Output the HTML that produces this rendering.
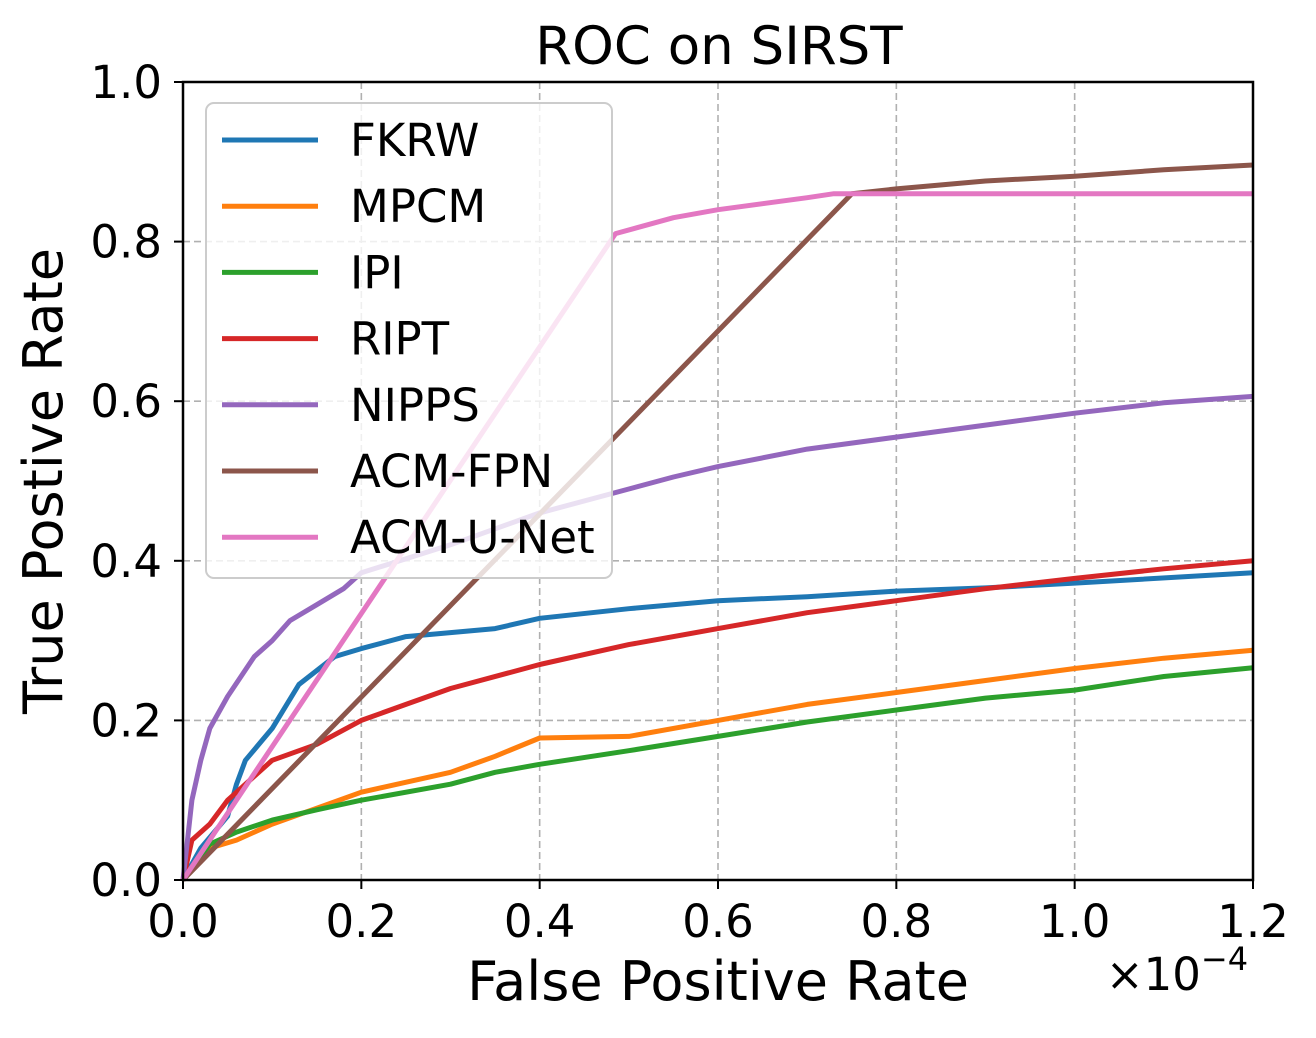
<!DOCTYPE html>
<html><head><meta charset="utf-8"><style>
body{margin:0;background:#fff}
svg text{font-family:"DejaVu Sans","Liberation Sans",sans-serif;fill:#000}
</style></head><body>
<svg width="1316" height="1033" viewBox="0 0 1316 1033">
<g id="grid"></g>
<g id="series"></g>
<rect x="183" y="82" width="1070" height="798" fill="none" stroke="#000" stroke-width="2.5"/>
<g id="ticks"></g>
<text x="719" y="64" font-size="53" text-anchor="middle">ROC on SIRST</text>
<text x="718" y="1000" font-size="54" text-anchor="middle">False Positive Rate</text>
<text x="1177" y="990" font-size="45" text-anchor="middle">×10<tspan dy="-20" font-size="32">−4</tspan></text>
<text transform="translate(62,481) rotate(-90)" font-size="54" text-anchor="middle">True Postive Rate</text>
<g id="legend"><rect x="206" y="103" width="406" height="475" rx="8" fill="#fff" fill-opacity="0.8" stroke="#ccc" stroke-width="2"/></g>
</svg>
<script>
const names=["FKRW","MPCM","IPI","RIPT","NIPPS","ACM-FPN","ACM-U-Net"];
const colors=["#1f77b4","#ff7f0e","#2ca02c","#d62728","#9467bd","#8c564b","#e377c2"];
const xTicks=[0,0.2,0.4,0.6,0.8,1.0,1.2];
const yTicks=[0,0.2,0.4,0.6,0.8,1.0];
const fkrwX=[0,0.02,0.05,0.06,0.07,0.1,0.13,0.17,0.2,0.25,0.3,0.35,0.4,0.5,0.6,0.7,0.8,0.9,1.0,1.2];
const fkrwY=[0,0.04,0.08,0.12,0.15,0.19,0.245,0.28,0.29,0.305,0.31,0.315,0.328,0.34,0.35,0.355,0.362,0.366,0.372,0.385];
const mpcmX=[0,0.03,0.06,0.1,0.15,0.2,0.3,0.35,0.4,0.5,0.6,0.7,0.8,0.9,1.0,1.1,1.2];
const mpcmY=[0,0.04,0.05,0.07,0.09,0.11,0.135,0.155,0.178,0.18,0.2,0.22,0.235,0.25,0.265,0.278,0.288];
const ipiX=[0,0.03,0.06,0.1,0.15,0.2,0.3,0.35,0.4,0.5,0.6,0.7,0.8,0.9,1.0,1.1,1.2];
const ipiY=[0,0.045,0.06,0.075,0.088,0.1,0.12,0.135,0.145,0.162,0.18,0.198,0.213,0.228,0.238,0.255,0.266];
const riptX=[0,0.01,0.03,0.05,0.08,0.1,0.15,0.2,0.25,0.3,0.4,0.5,0.6,0.7,0.8,0.9,1.0,1.1,1.2];
const riptY=[0,0.05,0.07,0.1,0.13,0.15,0.17,0.2,0.22,0.24,0.27,0.295,0.315,0.335,0.35,0.365,0.378,0.39,0.4];
const nippsX=[0,0.005,0.01,0.02,0.03,0.05,0.08,0.1,0.12,0.15,0.18,0.2,0.3,0.4,0.5,0.55,0.6,0.7,0.8,0.9,1.0,1.1,1.2];
const nippsY=[0,0.05,0.1,0.15,0.19,0.23,0.28,0.3,0.325,0.345,0.365,0.385,0.42,0.46,0.49,0.505,0.518,0.54,0.555,0.57,0.585,0.598,0.606];
const fpnX=[0,0.75,0.8,0.9,1.0,1.1,1.2];
const fpnY=[0,0.86,0.866,0.876,0.882,0.89,0.896];
const unetX=[0,0.485,0.55,0.6,0.7,0.73,1.2];
const unetY=[0,0.81,0.83,0.84,0.855,0.86,0.86];
const seriesX=[fkrwX,mpcmX,ipiX,riptX,nippsX,fpnX,unetX];
const seriesY=[fkrwY,mpcmY,ipiY,riptY,nippsY,fpnY,unetY];
const NS="http://www.w3.org/2000/svg";
const sx=v=>183+v/1.2*1070, sy=v=>880-v*798;
function mk(t,a,p){const e=document.createElementNS(NS,t);for(const k in a)e.setAttribute(k,a[k]);p.appendChild(e);return e;}
const grid=document.getElementById('grid'),ticks=document.getElementById('ticks');
xTicks.forEach(v=>{
 const l=mk('line',{x1:sx(v),x2:sx(v),y1:82,y2:880,stroke:'#b0b0b0','stroke-width':1.6,'stroke-dasharray':'7,4'},grid);
 
 
 mk('line',{x1:sx(v),x2:sx(v),y1:880,y2:889,stroke:'#000','stroke-width':2},ticks);
 const t=mk('text',{x:sx(v),y:937,'font-size':45,'text-anchor':'middle'},ticks);t.textContent=v.toFixed(1);
 
 
});
yTicks.forEach(v=>{
 const l=mk('line',{x1:183,x2:1253,y1:sy(v),y2:sy(v),stroke:'#b0b0b0','stroke-width':1.6,'stroke-dasharray':'7,4'},grid);
 
 
 mk('line',{x1:174,x2:183,y1:sy(v),y2:sy(v),stroke:'#000','stroke-width':2},ticks);
 const t=mk('text',{x:162,y:sy(v)+16,'font-size':45,'text-anchor':'end'},ticks);t.textContent=v.toFixed(1);
 
 
});
const sg=document.getElementById('series'),lg=document.getElementById('legend');
names.forEach((n,i)=>{
 const d=seriesX[i].map((x,j)=>(j?'L':'M')+sx(x).toFixed(1)+','+sy(seriesY[i][j]).toFixed(1)).join('');
 const p=mk('path',{d:d,fill:'none',stroke:colors[i],'stroke-width':5,'stroke-linejoin':'round'},sg);
 
 
 const y=140+i*66.2;
 const ll=mk('line',{x1:222,x2:318,y1:y,y2:y,stroke:colors[i],'stroke-width':5},lg);
 
 
 const t=mk('text',{x:350,y:y+16,'font-size':45},lg);t.textContent=n;
 
 
});
</script>
</body></html>
